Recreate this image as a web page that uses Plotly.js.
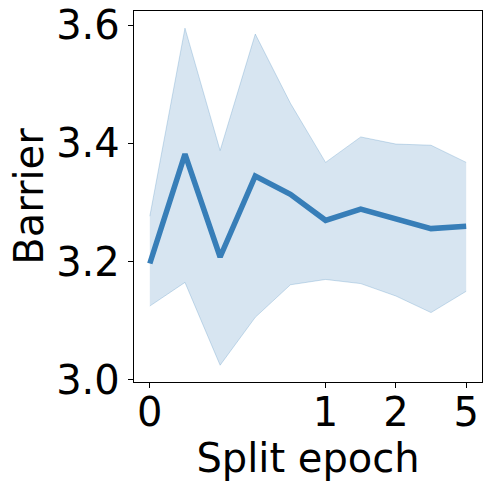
<!DOCTYPE html>
<html>
<head>
<meta charset="utf-8">
<script src="https://cdn.plot.ly/plotly-3.0.1.min.js"></script>
<style>html,body{margin:0;padding:0;background:#fff}</style>
</head>
<body>
<div id="chart" style="width:491px;height:491px"></div>
<script>
// Data (x as evenly spaced positions; tick labels at selected positions)
const xIndex = [0, 1, 2, 3, 4, 5, 6, 7, 8, 9];
const meanBarrier = [3.197, 3.382, 3.208, 3.345, 3.314, 3.270, 3.289, 3.273, 3.256, 3.260];
const upperBarrier = [3.277, 3.595, 3.388, 3.585, 3.468, 3.368, 3.411, 3.399, 3.397, 3.368];
const lowerBarrier = [3.125, 3.165, 3.025, 3.106, 3.161, 3.170, 3.163, 3.142, 3.114, 3.150];
const xTickVals = [0, 5, 7, 9];
const xTickText = ["0", "1", "2", "5"];
const yTickVals = [3.0, 3.2, 3.4, 3.6];
const yTickText = ["3.0", "3.2", "3.4", "3.6"];

const lineColor = "#377eb8";
const fillColor = "rgba(55,126,184,0.2)";

const traces = [
  {x: xIndex, y: lowerBarrier, mode: "lines", line: {color: "rgba(55,126,184,0.25)", width: 1}, hoverinfo: "skip", showlegend: false},
  {x: xIndex, y: upperBarrier, mode: "lines", line: {color: "rgba(55,126,184,0.25)", width: 1}, fill: "tonexty", fillcolor: fillColor, hoverinfo: "skip", showlegend: false},
  {x: xIndex, y: meanBarrier, mode: "lines", line: {color: lineColor, width: 5.5}, showlegend: false}
];

const font = {family: "DejaVu Sans", size: 40, color: "#000"};
const layout = {
  width: 491, height: 491,
  margin: {l: 134, r: 9, t: 11, b: 109},
  paper_bgcolor: "#fff", plot_bgcolor: "#fff",
  font: font,
  xaxis: {
    range: [-0.45, 9.45], tickvals: xTickVals, ticktext: xTickText,
    showgrid: false, zeroline: false, showline: true, mirror: true, linecolor: "#000", linewidth: 1.2,
    ticks: "outside", ticklen: 5, tickwidth: 1, tickcolor: "#000",
    tickfont: font, ticklabelstandoff: -10,
    title: {text: "Split epoch", font: font, standoff: 2}
  },
  yaxis: {
    range: [2.9966, 3.624], tickvals: yTickVals, ticktext: yTickText,
    showgrid: false, zeroline: false, showline: true, mirror: true, linecolor: "#000", linewidth: 1.2,
    ticks: "outside", ticklen: 5, tickwidth: 1, tickcolor: "#000",
    tickfont: font,
    title: {text: "Barrier", font: font, standoff: 0}
  }
};
Plotly.newPlot("chart", traces, layout, {displayModeBar: false, staticPlot: true});
</script>
</body>
</html>
